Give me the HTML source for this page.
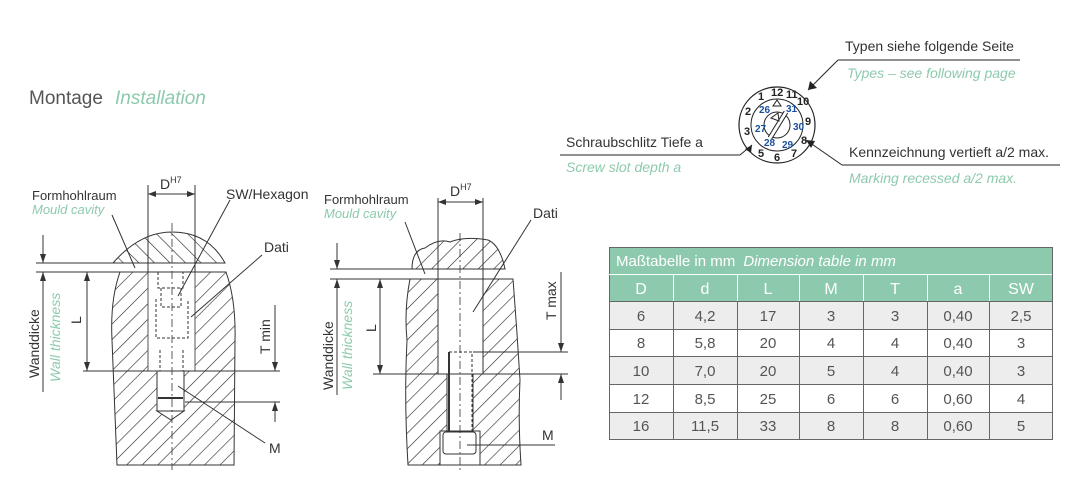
<!DOCTYPE html>
<html><head><meta charset="utf-8"><style>
body{margin:0;background:#fff;width:1088px;height:478px;overflow:hidden;font-family:"Liberation Sans Narrow","Liberation Sans",sans-serif}
svg text{font-family:"Liberation Sans Narrow","Liberation Sans",sans-serif}
</style></head><body>
<svg width="1088" height="478" viewBox="0 0 1088 478" xmlns="http://www.w3.org/2000/svg">
<defs>
<pattern id="h1" patternUnits="userSpaceOnUse" width="11" height="11" patternTransform="rotate(45)"><line x1="0" y1="0" x2="0" y2="11" stroke="#222" stroke-width="1.2"/></pattern>
<pattern id="h2" patternUnits="userSpaceOnUse" width="11" height="11" patternTransform="rotate(-45)"><line x1="0" y1="0" x2="0" y2="11" stroke="#222" stroke-width="1.2"/></pattern>
</defs>
<text x="29" y="104" font-size="19" fill="#555">Montage</text>
<text x="115" y="104" font-size="19" fill="#8dcaad" font-style="italic">Installation</text>

<!-- LEFT DRAWING -->
<g stroke="#333" fill="none" stroke-width="1">
<path d="M113,263 Q140,232 172,232 Q208,232 225,263 Z" fill="url(#h2)"/>
<path d="M120,272 Q110,300 112,340 L117,465 L234,465 L235,340 Q236,300 226,272 Z" fill="url(#h1)"/>
<rect x="148" y="272" width="47" height="99" fill="#fff" stroke="#555"/>
<rect x="157" y="371" width="27" height="40" fill="#fff"/>
<path d="M157,411 L184,411 L171,420 Z" fill="#fff"/>
<line x1="158" y1="398" x2="183" y2="398" stroke-width="2"/>
<path d="M158,272 V288 H183 V272 M161,288 V307 H181 V288 M156,299 V338 H188 V299 M160,350 V371 M183,350 V371" stroke-dasharray="3,2"/>
<line x1="172" y1="223" x2="172" y2="470" stroke-dasharray="8,3,2,3" stroke-width="0.8"/>
<line x1="36" y1="263" x2="225" y2="263"/><line x1="36" y1="272" x2="226" y2="272"/>
<line x1="148" y1="185" x2="148" y2="272"/><line x1="195" y1="185" x2="195" y2="272"/>
<line x1="148" y1="194" x2="195" y2="194"/>
<line x1="43" y1="235" x2="43" y2="263"/><line x1="43" y1="272" x2="43" y2="392"/>
<line x1="87" y1="272" x2="87" y2="371"/>
<line x1="83" y1="371" x2="280" y2="371"/>
<line x1="185" y1="402" x2="280" y2="402"/>
<line x1="275" y1="305" x2="275" y2="371"/><line x1="275" y1="402" x2="275" y2="422"/>
<line x1="112" y1="215" x2="135" y2="268"/>
<line x1="230" y1="200" x2="178" y2="296"/>
<line x1="262" y1="255" x2="191" y2="317"/>
<line x1="178" y1="386" x2="265" y2="443"/>
</g>
<g fill="#333">
<path d="M148,194 l8,-3 v6z"/><path d="M195,194 l-8,-3 v6z"/>
<path d="M43,263 l-3,-9 h6z"/><path d="M43,272 l-3,9 h6z"/>
<path d="M87,272 l-3,9 h6z"/><path d="M87,371 l-3,-9 h6z"/>
<path d="M275,371 l-3,-9 h6z"/><path d="M275,402 l-3,9 h6z"/>
</g>
<text x="32" y="200" font-size="13" fill="#333">Formhohlraum</text>
<text x="32" y="214" font-size="13" fill="#8dcaad" font-style="italic">Mould cavity</text>
<text x="160" y="189" font-size="14" fill="#333">D<tspan font-size="9" dy="-6">H7</tspan></text>
<text x="226" y="199" font-size="14" fill="#333">SW/Hexagon</text>
<text x="264" y="252" font-size="14" fill="#333">Dati</text>
<text x="269" y="453" font-size="14" fill="#333">M</text>
<text transform="translate(81,324) rotate(-90)" font-size="14" fill="#333">L</text>
<text transform="translate(270,354) rotate(-90)" font-size="14" fill="#333">T min</text>
<text transform="translate(39,378) rotate(-90)" font-size="14" fill="#333">Wanddicke</text>
<text transform="translate(60,382) rotate(-90)" font-size="14" fill="#8dcaad" font-style="italic">Wall thickness</text>

<!-- MIDDLE DRAWING -->
<g stroke="#333" fill="none" stroke-width="1">
<path d="M412,269 Q412,250 425,248 Q438,238 450,242 Q465,236 488,240 Q500,245 505,269 Z" fill="url(#h1)"/>
<path d="M410,279 Q404,310 407,340 Q404,400 408,465 L521,465 Q518,420 520,380 Q517,330 513,279 Z" fill="url(#h1)"/>
<rect x="438" y="279" width="45" height="95" fill="#fff"/>
<rect x="447" y="374" width="26" height="57" fill="#fff"/>
<rect x="440" y="431" width="40" height="34" fill="#fff"/>
<rect x="443" y="432" width="33" height="22" rx="3"/>
<line x1="449" y1="352" x2="449" y2="431" stroke-width="2"/>
<path d="M449,352 H472 V431" stroke-dasharray="3,2"/>
<line x1="460" y1="233" x2="460" y2="470" stroke-dasharray="8,3,2,3" stroke-width="0.8"/>
<line x1="330" y1="269" x2="505" y2="269"/><line x1="330" y1="279" x2="513" y2="279"/>
<line x1="438" y1="198" x2="438" y2="279"/><line x1="483" y1="198" x2="483" y2="279"/>
<line x1="438" y1="202" x2="483" y2="202"/>
<line x1="337" y1="243" x2="337" y2="269"/><line x1="337" y1="279" x2="337" y2="392"/>
<line x1="380" y1="279" x2="380" y2="374"/>
<line x1="373" y1="374" x2="568" y2="374"/>
<line x1="473" y1="352" x2="568" y2="352"/>
<line x1="561" y1="272" x2="561" y2="352"/><line x1="561" y1="374" x2="561" y2="400"/>
<line x1="405" y1="222" x2="425" y2="274"/>
<line x1="531" y1="220" x2="473" y2="312"/>
<line x1="467" y1="445" x2="555" y2="445"/>
</g>
<g fill="#333">
<path d="M438,202 l8,-3 v6z"/><path d="M483,202 l-8,-3 v6z"/>
<path d="M337,269 l-3,-9 h6z"/><path d="M337,279 l-3,9 h6z"/>
<path d="M380,279 l-3,9 h6z"/><path d="M380,374 l-3,-9 h6z"/>
<path d="M561,352 l-3,-9 h6z"/><path d="M561,374 l-3,9 h6z"/>
</g>
<text x="324" y="204" font-size="13" fill="#333">Formhohlraum</text>
<text x="324" y="218" font-size="13" fill="#8dcaad" font-style="italic">Mould cavity</text>
<text x="450" y="196" font-size="14" fill="#333">D<tspan font-size="9" dy="-6">H7</tspan></text>
<text x="533" y="218" font-size="14" fill="#333">Dati</text>
<text x="542" y="440" font-size="14" fill="#333">M</text>
<text transform="translate(376,332) rotate(-90)" font-size="14" fill="#333">L</text>
<text transform="translate(556,320) rotate(-90)" font-size="14" fill="#333">T max</text>
<text transform="translate(333,390) rotate(-90)" font-size="14" fill="#333">Wanddicke</text>
<line x1="337" y1="395" x2="337" y2="305" stroke="#333"/>
<text transform="translate(352,390) rotate(-90)" font-size="14" fill="#8dcaad" font-style="italic">Wall thickness</text>

<!-- DIAL -->
<g stroke="#222" fill="none">
<circle cx="777" cy="125" r="38" stroke-width="1.2"/>
<circle cx="777" cy="125" r="26" stroke-width="1"/>
<circle cx="777" cy="125" r="13"/>
<line x1="770" y1="138" x2="786" y2="112" stroke-width="5"/>
<line x1="770" y1="138" x2="786" y2="112" stroke-width="3" stroke="#fff"/>
<path d="M771,118 l8,3 l-1,-8z" stroke-width="1"/>
<path d="M777,100 l-4,6 h8z" stroke-width="1"/>
</g>
<g font-size="11" font-weight="bold" fill="#222">
<text x="771" y="96">12</text><text x="786" y="98">11</text><text x="797" y="105">10</text>
<text x="805" y="125">9</text><text x="801" y="144">8</text><text x="791" y="157">7</text>
<text x="774" y="161">6</text><text x="758" y="157">5</text><text x="744" y="135">3</text>
<text x="745" y="115">2</text><text x="758" y="100">1</text>
</g>
<g font-size="10" font-weight="bold" fill="#1a4fa0">
<text x="786" y="112">31</text><text x="793" y="130">30</text><text x="782" y="148">29</text>
<text x="764" y="146">28</text><text x="755" y="132">27</text><text x="759" y="113">26</text>
</g>
<g stroke="#222" fill="none">
<line x1="808" y1="90" x2="838" y2="60"/><line x1="838" y1="60" x2="1020" y2="60"/>
<line x1="806" y1="140" x2="842" y2="165"/><line x1="842" y1="165" x2="1060" y2="165"/>
<line x1="560" y1="155" x2="740" y2="155"/><line x1="740" y1="155" x2="752" y2="145"/>
</g>
<path d="M808,90 l2,-9 l7,7z" fill="#222"/>
<path d="M806,140 l9,1 l-4,7z" fill="#222"/>
<path d="M752,145 l-1,8 l-6,-4z" fill="#222"/>
<text x="845" y="51" font-size="14" fill="#333">Typen siehe folgende Seite</text>
<text x="847" y="78" font-size="14" fill="#8dcaad" font-style="italic">Types – see following page</text>
<text x="566" y="147" font-size="14" fill="#333">Schraubschlitz Tiefe a</text>
<text x="566" y="172" font-size="14" fill="#8dcaad" font-style="italic">Screw slot depth a</text>
<text x="849" y="157" font-size="14" fill="#333">Kennzeichnung vertieft a/2 max.</text>
<text x="849" y="183" font-size="14" fill="#8dcaad" font-style="italic">Marking recessed a/2 max.</text>

<!-- TABLE -->
<g font-size="15" fill="#555">
<rect x="609" y="247" width="443" height="54" fill="#8dcaad"/>
<rect x="609" y="301" width="443" height="28" fill="#ededed"/>
<rect x="609" y="356" width="443" height="28" fill="#ededed"/>
<rect x="609" y="412" width="443" height="27" fill="#ededed"/>
<g stroke="#666" stroke-width="1" fill="none">
<rect x="609.5" y="247.5" width="443" height="192"/>
<line x1="609" y1="274.5" x2="1052" y2="274.5" stroke="#fff"/>
<line x1="609" y1="301.5" x2="1052" y2="301.5"/>
<line x1="609" y1="329.5" x2="1052" y2="329.5"/>
<line x1="609" y1="356.5" x2="1052" y2="356.5"/>
<line x1="609" y1="384.5" x2="1052" y2="384.5"/>
<line x1="609" y1="412.5" x2="1052" y2="412.5"/>
<path d="M673.5,274V301 M737.5,274V301 M799.5,274V301 M863.5,274V301 M927.5,274V301 M989.5,274V301" stroke="#fff"/>
<path d="M673.5,301V440 M737.5,301V440 M799.5,301V440 M863.5,301V440 M927.5,301V440 M989.5,301V440"/>
</g>
<text x="616" y="266" fill="#fff">Maßtabelle in mm <tspan font-style="italic" dx="4">Dimension table in mm</tspan></text>
<g text-anchor="middle" fill="#fff" font-size="16">
<text x="641" y="294">D</text><text x="705" y="294">d</text><text x="768" y="294">L</text><text x="831" y="294">M</text><text x="895" y="294">T</text><text x="958" y="294">a</text><text x="1021" y="294">SW</text>
</g>
<g text-anchor="middle">
<text x="641" y="321">6</text><text x="705" y="321">4,2</text><text x="768" y="321">17</text><text x="831" y="321">3</text><text x="895" y="321">3</text><text x="958" y="321">0,40</text><text x="1021" y="321">2,5</text>
<text x="641" y="348">8</text><text x="705" y="348">5,8</text><text x="768" y="348">20</text><text x="831" y="348">4</text><text x="895" y="348">4</text><text x="958" y="348">0,40</text><text x="1021" y="348">3</text>
<text x="641" y="376">10</text><text x="705" y="376">7,0</text><text x="768" y="376">20</text><text x="831" y="376">5</text><text x="895" y="376">4</text><text x="958" y="376">0,40</text><text x="1021" y="376">3</text>
<text x="641" y="404">12</text><text x="705" y="404">8,5</text><text x="768" y="404">25</text><text x="831" y="404">6</text><text x="895" y="404">6</text><text x="958" y="404">0,60</text><text x="1021" y="404">4</text>
<text x="641" y="431">16</text><text x="705" y="431">11,5</text><text x="768" y="431">33</text><text x="831" y="431">8</text><text x="895" y="431">8</text><text x="958" y="431">0,60</text><text x="1021" y="431">5</text>
</g>
</g>
</svg>
</body></html>
